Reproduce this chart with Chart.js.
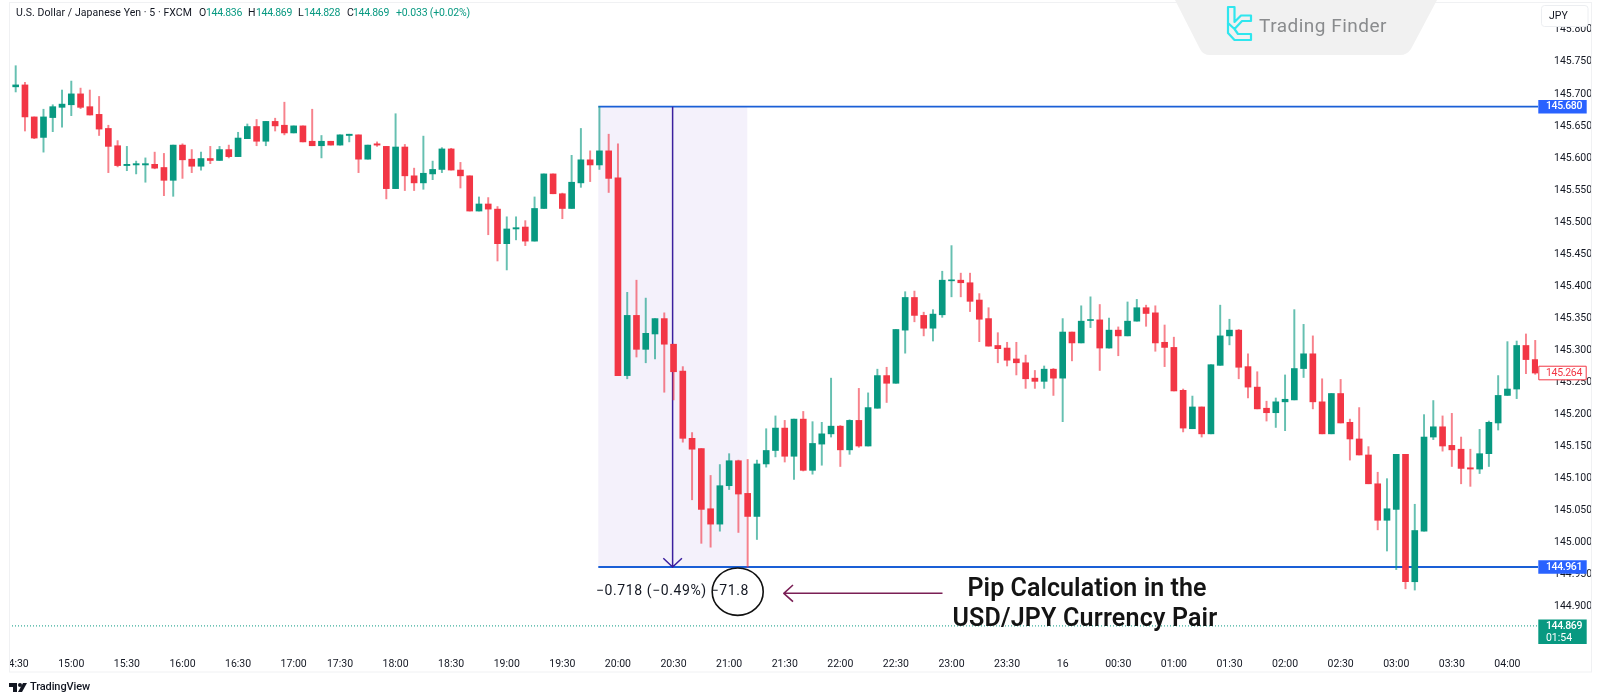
<!DOCTYPE html>
<html><head><meta charset="utf-8">
<style>html,body{margin:0;padding:0;background:#fff}canvas{display:block}</style>
<script src="https://cdn.jsdelivr.net/npm/chart.js@4"></script>
</head><body><canvas id="c" width="1600" height="700"></canvas>
<script>
const opens=[145.711,145.714,145.664,145.632,145.663,145.679,145.683,145.700,145.680,145.668,
145.646,145.619,145.588,145.589,145.589,145.590,145.585,145.565,145.620,145.598,
145.587,145.599,145.596,145.613,145.602,145.630,145.649,145.626,145.657,145.651,
145.639,145.650,145.626,145.619,145.626,145.620,145.635,145.636,145.598,145.622,
145.618,145.552,145.617,145.572,145.561,145.575,145.582,145.614,145.581,145.572,
145.517,145.528,145.520,145.466,145.489,145.492,145.470,145.521,145.575,145.544,
145.521,145.561,145.597,145.589,145.611,145.569,145.260,145.354,145.301,145.325,
145.349,145.309,145.267,145.162,145.146,145.052,145.028,145.088,145.127,145.076,
145.040,145.122,145.143,145.178,145.134,145.192,145.112,145.153,145.169,145.181,
145.144,145.190,145.150,145.209,145.260,145.248,145.331,145.382,145.354,145.334,
145.355,145.408,145.409,145.405,145.378,145.349,145.307,145.303,145.286,145.280,
145.256,145.251,145.270,145.256,145.328,145.311,145.346,145.347,145.303,145.331,
145.322,145.345,145.366,145.358,145.312,145.304,145.237,145.177,145.211,145.169,
145.276,145.322,145.331,145.274,145.242,145.209,145.202,145.219,145.222,145.271,
145.294,145.219,145.169,145.232,145.187,145.161,145.136,145.091,145.034,145.051,
145.137,144.938,145.017,145.164,145.180,145.151,145.145,145.116,145.114,145.138,
145.186,145.229,145.239,145.307,145.285];
const highs=[145.744,145.718,145.664,145.676,145.683,145.706,145.720,145.709,145.706,145.696,
145.651,145.627,145.618,145.595,145.600,145.609,145.607,145.620,145.622,145.613,
145.609,145.618,145.618,145.620,145.640,145.653,145.660,145.657,145.662,145.687,
145.650,145.650,145.676,145.635,145.626,145.636,145.637,145.636,145.620,145.625,
145.618,145.669,145.621,145.584,145.634,145.595,145.616,145.615,145.593,145.572,
145.539,145.538,145.524,145.508,145.508,145.502,145.539,145.575,145.575,145.545,
145.604,145.646,145.611,145.680,145.637,145.622,145.390,145.409,145.381,145.349,
145.358,145.309,145.274,145.171,145.146,145.104,145.121,145.138,145.128,145.129,
145.128,145.177,145.197,145.190,145.192,145.204,145.188,145.187,145.256,145.182,
145.191,145.240,145.233,145.270,145.273,145.332,145.391,145.392,145.359,145.363,
145.423,145.463,145.420,145.420,145.388,145.366,145.327,145.312,145.312,145.292,
145.268,145.275,145.271,145.349,145.328,145.369,145.383,145.371,145.350,145.336,
145.375,145.379,145.370,145.369,145.339,145.320,145.239,145.228,145.211,145.277,
145.370,145.348,145.332,145.294,145.266,145.220,145.225,145.261,145.363,145.340,
145.322,145.255,145.232,145.254,145.192,145.210,145.149,145.109,145.099,145.137,
145.137,145.059,145.199,145.221,145.197,145.201,145.164,145.145,145.176,145.189,
145.260,145.313,145.314,145.325,145.315];
const lows=[145.703,145.642,145.630,145.609,145.641,145.648,145.666,145.677,145.667,145.635,
145.577,145.586,145.580,145.575,145.562,145.583,145.541,145.540,145.568,145.577,
145.581,145.591,145.596,145.600,145.602,145.630,145.619,145.619,145.642,145.636,
145.639,145.625,145.619,145.600,145.620,145.620,145.625,145.577,145.598,145.618,
145.536,145.552,145.549,145.549,145.551,145.566,145.577,145.581,145.553,145.517,
145.517,145.480,145.439,145.425,145.472,145.463,145.470,145.521,145.544,145.505,
145.521,145.554,145.563,145.582,145.546,145.260,145.255,145.289,145.280,145.286,
145.234,145.222,145.156,145.066,144.998,144.992,145.017,145.082,145.015,144.961,
145.004,145.117,145.133,145.125,145.098,145.111,145.106,145.120,145.164,145.118,
145.137,145.148,145.150,145.209,145.218,145.248,145.295,145.344,145.322,145.314,
145.351,145.383,145.383,145.360,145.313,145.306,145.280,145.275,145.261,145.240,
145.240,145.240,145.229,145.188,145.283,145.311,145.335,145.268,145.303,145.291,
145.322,145.345,145.337,145.298,145.274,145.236,145.172,145.177,145.164,145.169,
145.276,145.308,145.255,145.225,145.208,145.189,145.179,145.174,145.222,145.257,
145.208,145.169,145.169,145.186,145.128,145.136,145.091,145.019,144.986,144.957,
144.927,144.925,145.017,145.160,145.142,145.118,145.091,145.087,145.107,145.118,
145.175,145.229,145.224,145.263,145.262];
const closes=[145.714,145.664,145.631,145.664,145.680,145.684,145.700,145.679,145.667,145.645,
145.618,145.588,145.590,145.591,145.591,145.584,145.565,145.620,145.597,145.587,
145.599,145.596,145.613,145.602,145.631,145.649,145.626,145.657,145.650,145.639,
145.650,145.625,145.619,145.626,145.620,145.636,145.637,145.598,145.620,145.620,
145.552,145.617,145.572,145.561,145.576,145.582,145.614,145.581,145.572,145.517,
145.528,145.520,145.466,145.489,145.491,145.470,145.521,145.575,145.544,145.521,
145.562,145.597,145.589,145.611,145.568,145.260,145.354,145.301,145.326,145.349,
145.309,145.266,145.162,145.145,145.051,145.028,145.088,145.127,145.075,145.040,
145.122,145.143,145.178,145.134,145.192,145.112,145.154,145.169,145.181,145.144,
145.190,145.150,145.210,145.260,145.248,145.332,145.382,145.354,145.334,145.356,
145.409,145.409,145.405,145.376,145.348,145.306,145.302,145.284,145.280,145.255,
145.251,145.270,145.256,145.328,145.311,145.345,145.347,145.303,145.331,145.322,
145.345,145.366,145.357,145.311,145.304,145.236,145.178,145.211,145.169,145.277,
145.322,145.331,145.273,145.242,145.208,145.202,145.219,145.223,145.271,145.294,
145.219,145.169,145.232,145.186,145.161,145.136,145.091,145.034,145.052,145.137,
144.938,145.018,145.164,145.180,145.150,145.144,145.115,145.114,145.138,145.187,
145.229,145.239,145.307,145.285,145.264];
const timeLabels=["14:30","15:00","15:30","16:00","16:30","17:00","17:30","18:00","18:30","19:00","19:30","20:00","20:30","21:00","21:30","22:00","22:30","23:00","23:30","16","00:30","01:00","01:30","02:00","02:30","03:00","03:30","04:00"];
const timeBars=[0,6,12,18,24,30,35,41,47,53,59,65,71,77,83,89,95,101,107,113,119,125,131,137,143,149,155,161];
const priceTicks=[144.9,144.95,145,145.05,145.1,145.15,145.2,145.25,145.3,145.35,145.4,145.45,145.5,145.55,145.6,145.65,145.7,145.75,145.8];
const measureHigh=145.680, measureLow=144.961, lastPrice=144.869, markPrice=145.264;
const measureFrom=62.88, measureTo=78.96, measureBar=70.9;
const UP='#089981', DOWN='#f23645', UPW='rgba(8,153,129,.62)', DOWNW='rgba(242,54,69,.62)';
const isUp=closes.map((c,i)=>c>=opens[i]);
const FONT='Roboto, sans-serif';

function txt(ctx,s,x,y,w,font,col,align){
  ctx.save();ctx.font=font;ctx.fillStyle=col;ctx.textBaseline='middle';ctx.textAlign='left';
  let m=ctx.measureText(s).width;
  if(w){ctx.letterSpacing=((w-m)/s.length).toFixed(3)+'px';m=w;}
  if(align==='center')x-=m/2;
  ctx.fillText(s,x,y);ctx.restore();
}
function box(ctx,x,y,w,h,fill,stroke,r){
  ctx.beginPath();ctx.roundRect(x,y,w,h,r||0);
  if(fill){ctx.fillStyle=fill;ctx.fill();}
  if(stroke){ctx.strokeStyle=stroke;ctx.lineWidth=1;ctx.stroke();}
}
const overlay={id:'overlay',
 beforeDatasetsDraw(ch){
  const c=ch.ctx,X=ch.scales.x,Y=ch.scales.y,a=ch.chartArea;
  const x0=X.getPixelForValue(measureFrom),x1=X.getPixelForValue(measureTo),yt=Y.getPixelForValue(measureHigh),yb=Y.getPixelForValue(measureLow);
  c.save();
  c.fillStyle='#f4f1fb';c.fillRect(x0,yt,x1-x0,yb-yt);
  c.strokeStyle='#1a5fd6';c.lineWidth=1.8;
  c.beginPath();c.moveTo(x0,yt);c.lineTo(a.right,yt);c.moveTo(x0,yb);c.lineTo(a.right,yb);c.stroke();
  const ax=X.getPixelForValue(measureBar);
  c.strokeStyle='#3b1f9e';c.lineWidth=1.5;
  c.beginPath();c.moveTo(ax,yt);c.lineTo(ax,yb);c.moveTo(ax-9.3,yb-8.7);c.lineTo(ax,yb);c.lineTo(ax+9.3,yb-8.7);c.stroke();
  const yl=Y.getPixelForValue(lastPrice);
  c.strokeStyle=UP;c.lineWidth=1;c.setLineDash([1,2]);
  c.beginPath();c.moveTo(a.left,yl);c.lineTo(a.right,yl);c.stroke();
  c.restore();
 },
 afterDraw(ch){
  const c=ch.ctx,Y=ch.scales.y,a=ch.chartArea;
  c.save();
  c.fillStyle='#fff';c.fillRect(0,640,9,35);
  c.strokeStyle='#f0f1f3';c.lineWidth=1;c.strokeRect(9.5,2.5,1582,669.5);
  // watermark
  c.beginPath();c.moveTo(1175,0);c.lineTo(1437,0);c.lineTo(1411,49);c.quadraticCurveTo(1407,55,1400,55);c.lineTo(1210,55);c.quadraticCurveTo(1203,55,1200,49);c.closePath();c.fillStyle='#f1f1f1';c.fill();
  c.strokeStyle='#2fe6ee';c.lineWidth=2.2;c.lineJoin='round';
  c.beginPath();c.moveTo(1228,7);c.lineTo(1234.5,7);c.lineTo(1234.5,22);c.lineTo(1241,15.5);c.lineTo(1251,15.5);c.lineTo(1251,21);c.lineTo(1242,21);c.lineTo(1234.5,29);c.lineTo(1228,23);c.closePath();c.stroke();
  c.beginPath();c.moveTo(1228,23);c.lineTo(1228,33);c.lineTo(1234.5,40);c.lineTo(1251,40);c.lineTo(1251,34);c.lineTo(1238,34);c.lineTo(1234.5,29);c.stroke();
  txt(c,'Trading Finder',1259,27,128,'400 19px '+FONT,'#8a8c8e');
  // header
  const hf='400 10.5px '+FONT,h='#131722';
  txt(c,'U.S. Dollar / Japanese Yen · 5 · FXCM',16,13,176,hf,h);
  [['O',199,206,'144.836'],['H',248,256,'144.869'],['L',298,304,'144.828'],['C',347,353,'144.869']].forEach(r=>{txt(c,r[0],r[1],13,0,hf,h);txt(c,r[3],r[2],13,36,hf,UP);});
  txt(c,'+0.033 (+0.02%)',396,13,74,hf,UP);
  // currency box
  box(c,1541.5,5.5,46.5,21,'#fff','#eceef1',3);
  txt(c,'JPY',1549,16,0,'400 10.5px '+FONT,h);
  // price labels
  const lf='500 10.5px '+FONT,lx=1538.3,lw=48.4;
  const yt=Y.getPixelForValue(measureHigh),yb=Y.getPixelForValue(measureLow),yl=Y.getPixelForValue(lastPrice),ym=Y.getPixelForValue(markPrice);
  box(c,lx,yt-6.8,lw,13.6,'#2962ff');txt(c,measureHigh.toFixed(3),1546,yt,36,lf,'#fff');
  box(c,lx,yb-6.8,lw,13.6,'#2962ff');txt(c,measureLow.toFixed(3),1546,yb,36,lf,'#fff');
  box(c,lx,yl-6.3,lw,24.3,UP);txt(c,lastPrice.toFixed(3),1546,yl,36,lf,'#fff');txt(c,'01:54',1546,yl+12,26,'400 10.5px '+FONT,'#fff');
  box(c,lx+.5,ym-6.8,lw-1,13.6,'#fff',DOWN);txt(c,markPrice.toFixed(3),1546,ym,36,'400 10.5px '+FONT,DOWN);
  // measurement
  txt(c,'−0.718 (−0.49%) −71.8',596,591,153,'400 14px '+FONT,'#131722');
  c.strokeStyle='#111';c.lineWidth=1.6;c.beginPath();c.ellipse(737.7,591.7,25.5,23.7,0,0,Math.PI*2);c.stroke();
  c.strokeStyle='#7a1f55';c.lineWidth=1.6;c.beginPath();c.moveTo(942.5,593.3);c.lineTo(783.8,593.3);c.moveTo(793,585);c.lineTo(783.8,593.3);c.lineTo(793,601.6);c.stroke();
  txt(c,'Pip Calculation in the',1087,590,239,'600 25px '+FONT,'#141414','center');
  txt(c,'USD/JPY Currency Pair',1085,620,265,'600 25px '+FONT,'#141414','center');
  // footer
  c.fillStyle='#131722';c.fillRect(9,683,8,4);c.fillRect(13,683,4,9);
  c.beginPath();c.arc(20,685,2,0,Math.PI*2);c.fill();
  c.beginPath();c.moveTo(23,683);c.lineTo(27,683);c.lineTo(22,692);c.lineTo(18,692);c.closePath();c.fill();
  txt(c,'TradingView',30,687,60,'500 11px '+FONT,'#131722');
  c.restore();
 }};
new Chart(document.getElementById('c'),{
 data:{datasets:[
  {type:'bar',label:'Body',data:opens.map((o,i)=>({x:i,y:[o,closes[i]]})),barThickness:6,minBarLength:1,grouped:false,
   backgroundColor:isUp.map(u=>u?UP:DOWN),borderWidth:0,borderSkipped:false},
  {type:'bar',label:'Wick',data:lows.map((l,i)=>({x:i,y:[l,highs[i]]})),barThickness:1.3,grouped:false,
   backgroundColor:isUp.map(u=>u?UPW:DOWNW),borderWidth:0,borderSkipped:false}
 ]},
 options:{responsive:false,devicePixelRatio:1,animation:false,
  layout:{padding:{left:9,top:2,right:8,bottom:28},autoPadding:false},
  plugins:{legend:{display:false},tooltip:{enabled:false}},
  scales:{
   x:{type:'linear',min:-0.723,max:164.3,offset:false,grid:{display:false},border:{display:false},
    afterBuildTicks(s){s.ticks=timeBars.map(v=>({value:v}));},
    afterFit(s){s.height=27;s.paddingLeft=0;s.paddingRight=0;},
    ticks:{autoSkip:false,maxRotation:0,padding:5,color:'#131722',font:{family:'Roboto',size:10.5},
     callback(v){const k=timeBars.indexOf(v);return k<0?'':timeLabels[k];}}},
   y:{type:'linear',position:'right',min:144.8392,max:145.8435,grid:{display:false},border:{display:false},
    afterBuildTicks(s){s.ticks=priceTicks.map(v=>({value:v}));},
    afterFit(s){s.width=54;s.paddingTop=0;s.paddingBottom=0;},
    ticks:{autoSkip:false,padding:8,color:'#131722',font:{family:'Roboto',size:10.5},
     callback(v){return v.toFixed(3);}}}
  }},
 plugins:[overlay]
});
</script></body></html>
